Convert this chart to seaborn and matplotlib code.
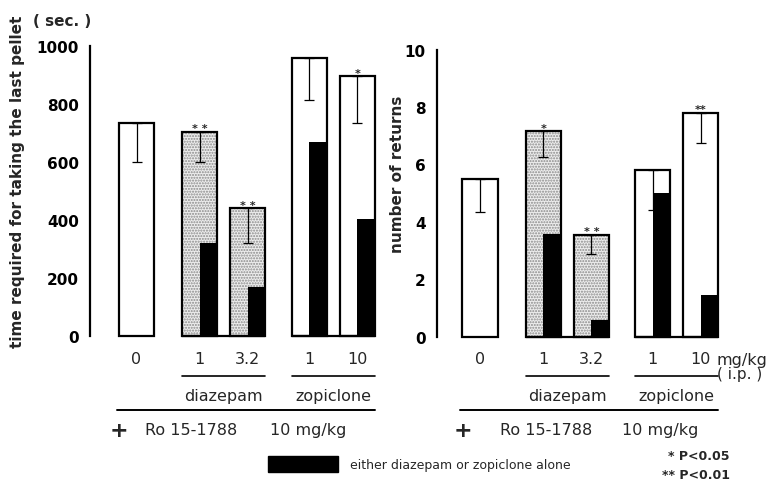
import numpy as np
import pandas as pd
import matplotlib
matplotlib.use("Agg")
import matplotlib.pyplot as plt
import seaborn as sns
from matplotlib.transforms import blended_transform_factory
from matplotlib.patches import Rectangle

# ---------------- data ----------------
doses = ["0", "1", "3.2", "1", "10"]
drugs = ["control", "diazepam", "diazepam", "zopiclone", "zopiclone"]

time_mean = [735, 705, 440, 960, 895]
time_err = [135, 105, 120, 145, 160]
time_alone = [np.nan, 320, 170, 670, 405]
time_sig = ["", "* *", "* *", "", "*"]

ret_mean = [5.48, 7.15, 3.55, 5.82, 7.80]
ret_err = [1.15, 0.90, 0.68, 1.40, 1.06]
ret_alone = [np.nan, 3.58, 0.58, 5.00, 1.45]
ret_sig = ["", "*", "* *", "", "**"]

time_ticks = [0, 200, 400, 600, 800, 1000]
ret_ticks = [0, 2, 4, 6, 8, 10]

# ---------------- layout ----------------
W, H = 773, 485
xpos = [0.0, 1.32, 2.32, 3.60, 4.60]
bar_w = 0.73
PXU = 48.0  # pixels per x unit

sns.set_theme(style="white")
plt.rcParams["font.family"] = ["DejaVu Sans"]

fig = plt.figure(figsize=(W / 100, H / 100), dpi=100)


def fy(ypx):
    return 1 - ypx / H


def panel(ax_rect_px, x0_px, mean, err, alone, sig, ticks, ymax):
    left, y0, wpx, ytop = ax_rect_px
    ax = fig.add_axes([left / W, fy(y0), wpx / W, (y0 - ytop) / H])
    df = pd.DataFrame({"x": xpos, "mean": mean, "err": err, "alone": alone,
                       "drug": drugs, "sig": sig})

    # stipple underlay for diazepam bars
    dz = df[df["drug"] == "diazepam"]
    n0 = len(ax.patches)
    sns.barplot(data=dz, x="x", y="mean", native_scale=True, width=bar_w,
                color="#ededed", edgecolor="#8a8a8a", linewidth=0,
                hatch="......", errorbar=None, ax=ax, saturation=1)
    for p in ax.patches[n0:]:
        p.set_zorder(1)

    # black bars: drug alone (right half of each drug bar)
    al = df[df["drug"] != "control"].copy()
    al["xa"] = al["x"] + bar_w / 4
    n0 = len(ax.patches)
    sns.barplot(data=al, x="xa", y="alone", native_scale=True, width=bar_w / 2,
                color="black", edgecolor="black", linewidth=0,
                errorbar=None, ax=ax, saturation=1)
    for p in ax.patches[n0:]:
        p.set_zorder(2)

    # outlines of all combination bars
    n0 = len(ax.patches)
    sns.barplot(data=df, x="x", y="mean", native_scale=True, width=bar_w,
                color="white", edgecolor="black", linewidth=1.6,
                errorbar=None, ax=ax, saturation=1)
    for p in ax.patches[n0:]:
        p.set_facecolor("none")
        p.set_zorder(3)

    for p in ax.patches:
        p.set_clip_on(False)

    # error bars (downward only)
    ax.errorbar(df["x"], df["mean"], yerr=[df["err"], np.zeros(len(df))],
                fmt="none", ecolor="black", elinewidth=0.9, capsize=3.5,
                capthick=0.9, zorder=4, clip_on=False)

    # significance stars
    for x, m, s in zip(df["x"], df["mean"], df["sig"]):
        if s:
            ax.annotate(s, (x, m), xytext=(0, -1), textcoords="offset points",
                        ha="center", va="bottom", fontsize=8, fontweight="bold")

    # baseline segments inside groups
    for a, b in [(1, 2), (3, 4)]:
        ax.plot([xpos[a] - bar_w / 2, xpos[b] + bar_w / 2], [0, 0],
                color="black", lw=1.6, solid_capstyle="butt", zorder=3,
                clip_on=False)

    ax.set_xlim(-x0_px / PXU, -x0_px / PXU + wpx / PXU)
    ax.set_ylim(0, ymax)
    ax.set_yticks(ticks)
    ax.set_yticklabels([str(t) for t in ticks])
    ax.set_xticks([])
    ax.set_xlabel("")
    ax.set_ylabel("")
    for s in ["top", "right", "bottom"]:
        ax.spines[s].set_visible(False)
    ax.spines["left"].set_linewidth(1.6)
    ax.spines["left"].set_color("black")
    ax.spines["left"].set_bounds(0, ymax)
    ax.tick_params(axis="y", direction="in", length=8, width=1.4, pad=8,
                   labelsize=11, colors="black")
    for lab in ax.get_yticklabels():
        lab.set_fontweight("bold")
    ax.patch.set_visible(False)
    return ax


axL = panel((90, 337, 295, 47), 46.5, time_mean, time_err, time_alone,
            time_sig, time_ticks, 1000)
axR = panel((437, 337.7, 295, 50.7), 43, ret_mean, ret_err, ret_alone,
            ret_sig, ret_ticks, 10)

# y labels
fig.text(18 / W, fy(182), "time required for taking the last pellet",
         rotation=90, ha="center", va="center", fontsize=11,
         fontweight="bold")
fig.text(33 / W, fy(22), "( sec. )", ha="left", va="center", fontsize=11,
         fontweight="bold")
fig.text(398 / W, fy(174), "number of returns", rotation=90, ha="center",
         va="center", fontsize=11, fontweight="bold")

# annotations below axes
for ax, ro_x, mg_x in [(axL, 0.18, 2.78), (axR, 0.42, 2.95)]:
    tr = blended_transform_factory(ax.transData, fig.transFigure)
    for x, d in zip(xpos, doses):
        ax.text(x, fy(360), d, transform=tr, ha="center", va="center",
                fontsize=11.5)
    # short group lines
    for a, b, name in [(1, 2, "diazepam"), (3, 4, "zopiclone")]:
        ax.plot([xpos[a] - bar_w / 2, xpos[b] + bar_w / 2], [fy(377)] * 2,
                transform=tr, color="black", lw=1.2, clip_on=False)
        ax.text((xpos[a] + xpos[b]) / 2, fy(397), name, transform=tr,
                ha="center", va="center", fontsize=11.5)
    ax.plot([xpos[0] - bar_w / 2 - 0.05, xpos[4] + bar_w / 2], [fy(411)] * 2,
            transform=tr, color="black", lw=1.4, clip_on=False)
    ax.text(xpos[0] - bar_w / 2, fy(431), "+", transform=tr, ha="center",
            va="center", fontsize=16, fontweight="bold")
    ax.text(ro_x, fy(431), "Ro 15-1788", transform=tr, ha="left",
            va="center", fontsize=11.5)
    ax.text(mg_x, fy(431), "10 mg/kg", transform=tr, ha="left",
            va="center", fontsize=11.5)

fig.text(716 / W, fy(360), "mg/kg", ha="left", va="center", fontsize=11.5)
fig.text(717 / W, fy(375), "( i.p. )", ha="left", va="center", fontsize=11)

# legend
fig.add_artist(Rectangle((268 / W, fy(473)), 70 / W, 16 / H,
                         transform=fig.transFigure, facecolor="black",
                         edgecolor="black"))
fig.text(350 / W, fy(466), "either diazepam or zopiclone alone", ha="left",
         va="center", fontsize=9)
fig.text(730 / W, fy(457), "* P<0.05", ha="right", va="center", fontsize=9,
         fontweight="bold")
fig.text(730 / W, fy(476), "** P<0.01", ha="right", va="center", fontsize=9,
         fontweight="bold")

fig.savefig("out.png", dpi=100, facecolor="white")
